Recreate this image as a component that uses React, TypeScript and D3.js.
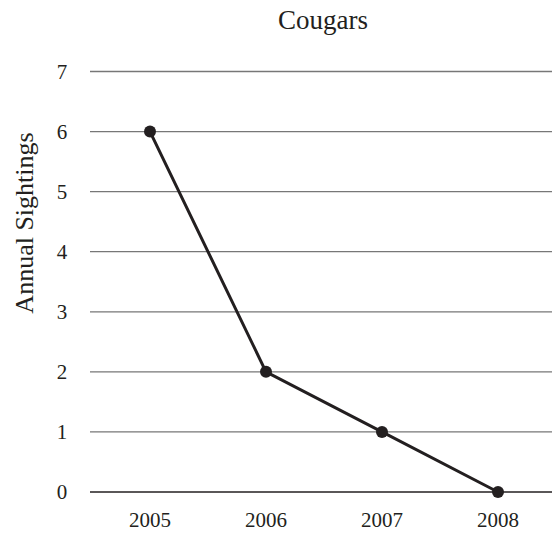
import React from "react";
import * as d3 from "d3";

const years = ["2005", "2006", "2007", "2008"];
const sightings = [6, 2, 1, 0];
const yTicks = [0, 1, 2, 3, 4, 5, 6, 7];

export default function App() {
  const width = 552;
  const height = 533;

  const x = d3.scalePoint<string>().domain(years).range([150, 498]);
  const y = d3.scaleLinear().domain([0, 7]).range([492, 71.5]);

  const line = d3
    .line<number>()
    .x((d, i) => x(years[i]) as number)
    .y((d) => y(d));

  const font = "Liberation Serif, Times New Roman, serif";
  const ink = "#231f20";

  return (
    <svg
      width={width}
      height={height}
      style={{ position: "absolute", left: 0, top: 0, background: "#fff", fontFamily: font }}
    >
      <text x={323} y={29} textAnchor="middle" fontSize={27} fill={ink}>
        Cougars
      </text>

      {/* gridlines + y labels */}
      {yTicks.map((t) => (
        <g key={t}>
          <line
            x1={90}
            x2={552}
            y1={y(t)}
            y2={y(t)}
            stroke={t === 0 ? ink : "#777"}
            strokeWidth={1.3}
          />
          <text
            x={62}
            y={y(t)}
            dy="0.35em"
            textAnchor="middle"
            fontSize={21}
            fill={ink}
          >
            {t}
          </text>
        </g>
      ))}

      <text
        transform={`translate(33,223) rotate(-90)`}
        textAnchor="middle"
        fontSize={26}
        fill={ink}
      >
        Annual Sightings
      </text>

      {years.map((yr) => (
        <text
          key={yr}
          x={x(yr)}
          y={527}
          textAnchor="middle"
          fontSize={21}
          fill={ink}
        >
          {yr}
        </text>
      ))}

      <path d={line(sightings) ?? ""} fill="none" stroke={ink} strokeWidth={3} />
      {sightings.map((v, i) => (
        <circle key={i} cx={x(years[i])} cy={y(v)} r={6} fill={ink} />
      ))}
    </svg>
  );
}
